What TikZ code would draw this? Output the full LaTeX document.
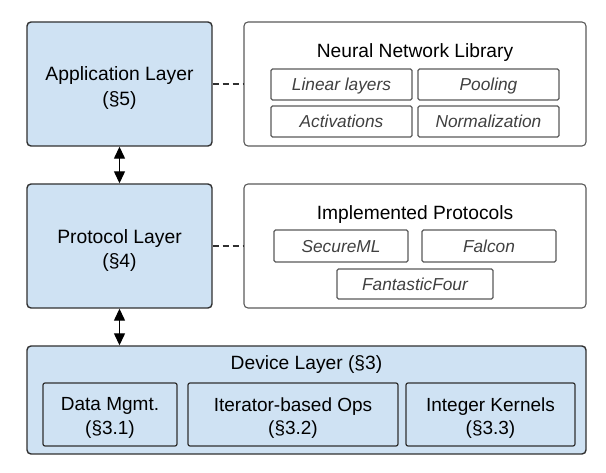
\documentclass[tikz,border=0pt]{standalone}
\usepackage{fontspec}
\setmainfont{Liberation Sans}
\usetikzlibrary{arrows.meta}
\definecolor{layerblue}{HTML}{CFE2F3}
\definecolor{edgedark}{HTML}{303030}
\definecolor{edgegray}{HTML}{5A5A5A}
\definecolor{labgray}{HTML}{404040}
\begin{document}
\begin{tikzpicture}[x=1pt,y=-1pt,
  layer/.style={draw=edgedark,fill=layerblue,line width=1.4pt,rounded corners=4pt,inner sep=0pt},
  layertxt/.style={inner sep=0pt,align=center,font=\fontsize{19.3}{24.5}\selectfont},
  libbox/.style={draw=edgegray,fill=white,line width=1.1pt,rounded corners=4pt,inner sep=0pt},
  itembox/.style={draw=edgegray,fill=white,line width=1.1pt,rounded corners=1.5pt,inner sep=0pt,
    text height=12.4pt,text depth=0pt,
    text=labgray,font=\fontsize{17.3}{20}\selectfont\itshape},
  subbox/.style={draw=edgedark,fill=layerblue,line width=1.2pt,rounded corners=2pt,inner sep=0pt},
  subtxt/.style={inner sep=0pt,align=center,font=\fontsize{19}{23.5}\selectfont},
  titletxt/.style={inner sep=0pt,text height=13.7pt,text depth=0pt,font=\fontsize{19.2}{23}\selectfont},
  dual/.style={line width=1.3pt,{Triangle[length=12pt,width=11pt]}-{Triangle[length=12pt,width=11pt]}},
  link/.style={line width=1.1pt,draw=edgedark,dash pattern=on 6pt off 4pt}
]
\useasboundingbox (0,0) rectangle (606,473);

% left layers
\node[layer,minimum width=185pt,minimum height=124pt] (app) at (119.5,84) {};
\node[layertxt] (appt) at ([yshift=-4pt]app.center) {Application Layer\\(§5)};
\node[layer,minimum width=185pt,minimum height=124pt] (proto) at (119.5,246) {};
\node[layertxt] (protot) at ([yshift=-4.5pt]proto.center) {Protocol Layer\\(§4)};
\node[layer,minimum width=559pt,minimum height=108pt] (dev) at (306.5,400) {};
\node[titletxt] (devt) at (306.5,363) {Device Layer (§3)};
\node[subbox,minimum width=134pt,minimum height=63pt] (dm) at (110,414.5) {};
\node[subtxt] (dmt) at ([yshift=-3.5pt]dm.center) {Data Mgmt.\\(§3.1)};
\node[subbox,minimum width=210pt,minimum height=63pt] (it) at (293,414.5) {};
\node[subtxt] (itt) at ([yshift=-3.5pt]it.center) {Iterator-based Ops\\(§3.2)};
\node[subbox,minimum width=169pt,minimum height=63pt] (ik) at (490.5,414.5) {};
\node[subtxt] (ikt) at ([yshift=-3.5pt]ik.center) {Integer Kernels\\(§3.3)};

% neural network library
\node[libbox,minimum width=342pt,minimum height=124pt] (nn) at (415,84) {};
\node[titletxt] (nnt) at (415,51) {Neural Network Library};
\node[itembox,minimum width=141pt,minimum height=31pt] (lin) at (341.5,84.5) {Linear layers};
\node[itembox,minimum width=141pt,minimum height=31pt] (pool) at (488.5,84.5) {Pooling};
\node[itembox,minimum width=141pt,minimum height=31pt] (act) at (341.5,121.5) {Activations};
\node[itembox,minimum width=141pt,minimum height=31pt] (norm) at (488.5,121.5) {Normalization};

% implemented protocols
\node[libbox,minimum width=342pt,minimum height=124pt] (ip) at (415,246) {};
\node[titletxt] (ipt) at (415,213) {Implemented Protocols};
\node[itembox,minimum width=134pt,minimum height=32pt] (sml) at (341,246) {SecureML};
\node[itembox,minimum width=134pt,minimum height=32pt] (fal) at (489,246) {Falcon};
\node[itembox,minimum width=156pt,minimum height=30pt] (ff) at (415,284) {FantasticFour};

% connectors
\draw[dual] (app.south) -- (proto.north);
\draw[dual] (proto.south) -- (proto.south |- dev.north);
\draw[link] (app.east) -- (nn.west);
\draw[link] (proto.east) -- (ip.west);
\end{tikzpicture}
\end{document}
